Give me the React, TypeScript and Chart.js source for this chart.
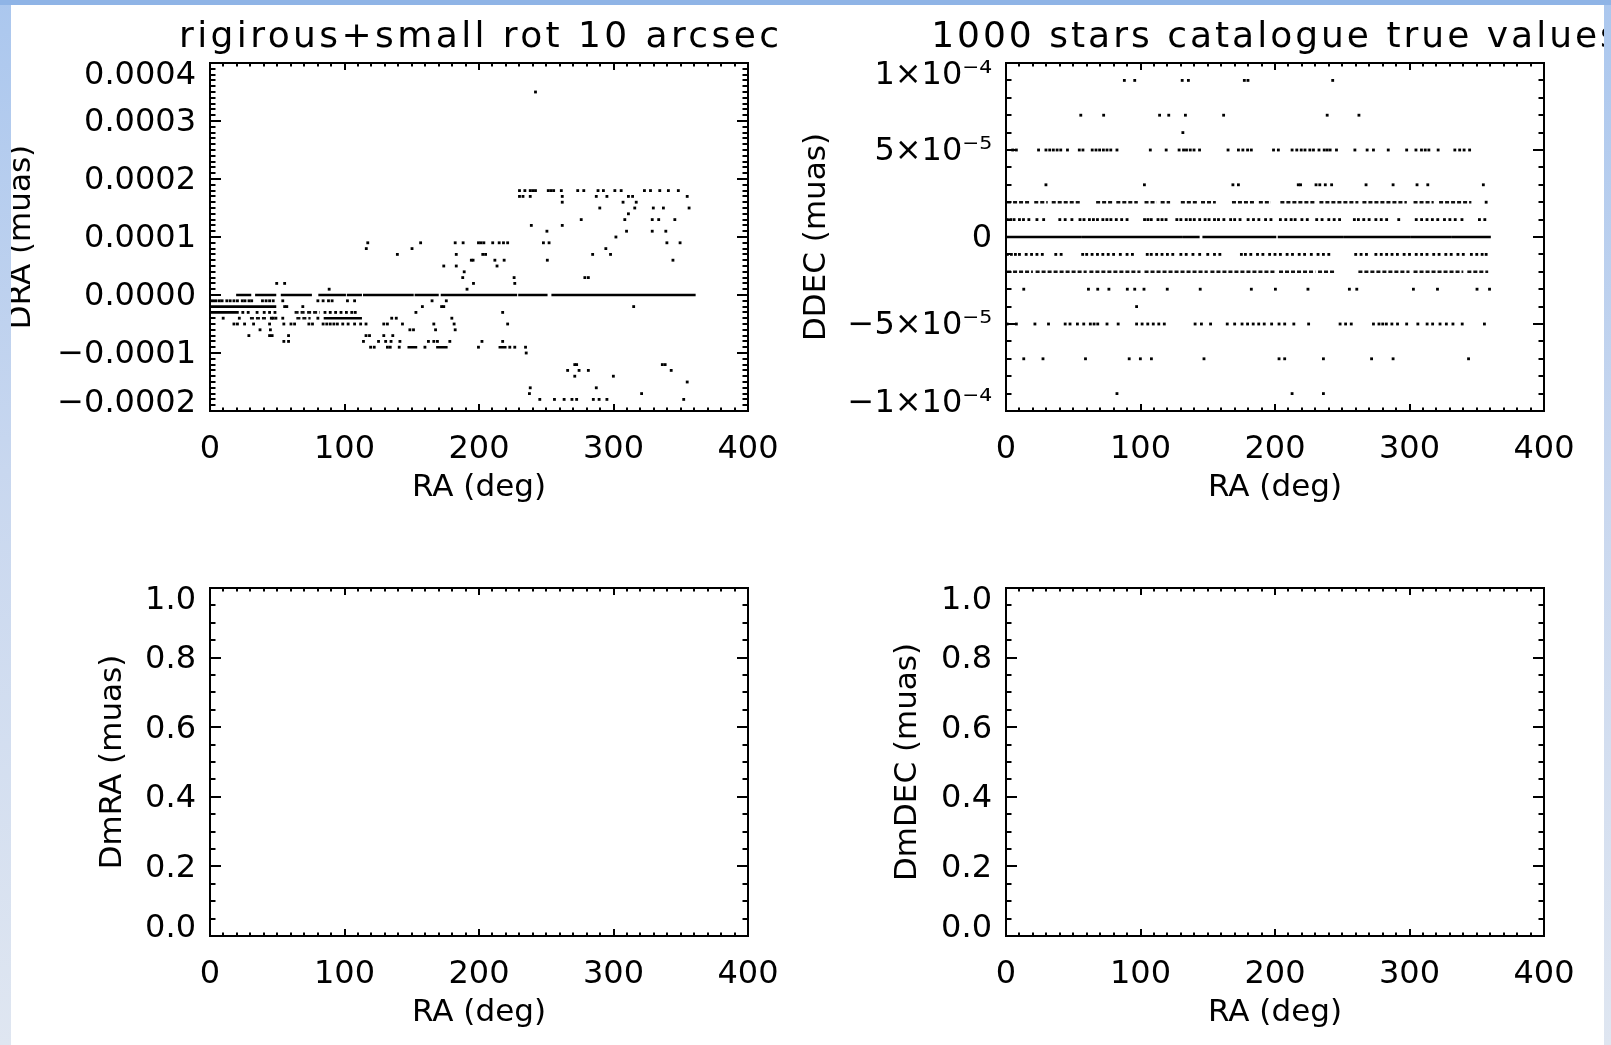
import React, { useEffect, useRef } from 'react';
import { Chart, registerables } from 'chart.js';

Chart.register(...registerables);

const FONT = '"DejaVu Sans", "Liberation Sans", sans-serif';

// ---------------- shared x axis ----------------
const RA_TICKS = [0, 100, 200, 300, 400];
const RA_TICK_LABELS = ['0', '100', '200', '300', '400'];
const RA_MINOR_STEP = 10;
const RA_TITLE = 'RA (deg)';

// ---------------- top-left panel ----------------
const TL_TITLE = 'rigirous+small rot 10 arcsec';
const TL_Y_TITLE = 'DRA (muas)';
const TL_Y_TICKS = [-0.0002, -0.0001, 0, 0.0001, 0.0002, 0.0003, 0.0004];
const TL_Y_LABELS = ['\u22120.0002', '\u22120.0001', '0.0000', '0.0001', '0.0002', '0.0003', '0.0004'];
const TL_Y_MINOR_STEP = 0.00001;

// DRA levels (muas) and the RA (deg) of the isolated stars seen on each level
const TL_LEVELS = [3.5e-4, 1.8e-4, 1.7e-4, 1.6e-4, 1.5e-4, 1.4e-4, 1.3e-4, 1.2e-4, 1.1e-4, 1.0e-4, 9e-5, 8e-5, 7e-5, 6e-5, 5e-5, 4e-5, 3e-5, 2e-5, 1e-5, -1e-5, -2e-5, -3e-5, -4e-5, -5e-5, -6e-5, -7e-5, -8e-5, -9e-5, -1.0e-4, -1.2e-4, -1.3e-4, -1.4e-4, -1.5e-4, -1.6e-4, -1.7e-4, -1.8e-4];
const TL_RA = [
  [242.0],
  [230.1, 234.1, 238.1, 240.0, 242.0, 251.5, 253.5, 255.5, 261.2, 273.4, 277.9, 288.5, 292.5, 301.0, 305.7, 323.0, 327.5, 334.4, 340.8, 348.2],
  [230.1, 232.7, 238.1, 261.9, 287.2, 295.1, 311.1, 314.2, 354.8],
  [261.9, 307.1, 316.9],
  [289.8, 315.8, 329.6, 337.1, 356.2],
  [311.1],
  [276.0, 308.4, 328.8, 333.6, 345.6],
  [238.9, 261.9],
  [250.5, 309.7, 328.8, 338.9],
  [301.8],
  [117.3, 156.6, 182.3, 188.2, 199.6, 201.5, 203.6, 210.2, 215.0, 218.2, 221.3, 247.9, 252.1, 339.7, 349.5],
  [116.2, 150.2, 294.3],
  [139.3, 183.1, 202.8, 204.9, 284.5, 297.8],
  [194.3, 195.6, 211.8, 218.7, 250.8, 344.2],
  [173.8, 183.1, 213.4],
  [189.0],
  [187.9, 226.1, 278.7, 281.3],
  [49.6, 55.5, 195.9, 226.6],
  [88.6, 191.1],
  [0.5, 2.5, 4.5, 7.0, 9.0, 12.5, 15.0, 17.8, 20.4, 24.0, 26.0, 29.0, 31.0, 39.0, 41.7, 44.3, 47.0, 54.1, 80.2, 84.1, 88.1, 90.8, 102.2, 107.5, 165.1, 175.7],
  [55.5, 57.1, 69.0, 157.9, 172.2, 173.8, 315.0],
  [24.4, 28.4, 35.0, 40.3, 44.3, 48.3, 85.5, 89.4, 93.4, 97.4, 101.4, 105.4, 108.0, 153.1, 217.6],
  [9.8, 21.8, 45.6, 47.0, 49.0, 54.1, 80.2, 135.1, 138.5, 179.8],
  [17.8, 20.4, 25.7, 32.4, 44.3, 54.9, 60.2, 62.9, 73.5, 76.2, 84.1, 86.8, 89.4, 92.1, 94.7, 98.7, 102.7, 107.5, 112.0, 116.0, 129.2, 131.9, 143.1, 166.4, 181.5, 221.3],
  [37.2, 44.9, 148.6, 151.3, 167.7, 182.3],
  [28.9, 44.3, 46.2, 58.4, 116.0, 118.6, 129.2, 135.9],
  [54.9, 58.4, 114.1, 125.3, 130.6, 134.6, 141.2, 162.4, 166.4, 169.1, 178.3, 202.2, 217.6],
  [119.4, 122.1, 131.9, 134.0, 140.7, 159.8, 199.6, 222.9, 226.6, 234.6],
  [235.1],
  [271.2, 272.6, 336.3, 338.4],
  [265.9, 274.4, 281.3, 342.9],
  [271.2, 299.9],
  [354.8],
  [238.1, 287.2],
  [237.5, 320.9],
  [245.2, 256.1, 263.3, 269.1, 272.6, 285.0, 289.3, 295.1, 352.2],
];
// solid runs of overlapping stars: level, RA start, RA end
const TL_RUN_LEVEL = [0, 0, 0, 0, 0, 0, 0, 0, 0, 0, 0, 0, -2e-5, -3e-5, -4e-5, -9e-5, -9e-5, -9e-5];
const TL_RUN_START = [20.4, 34.5, 53.6, 81.5, 102.7, 114.7, 153.1, 172.5, 230.1, 254.8, 310.2, 329.2, 0.5, 0.5, 85.5, 147.8, 169.1, 215.5];
const TL_RUN_END = [29.7, 48.3, 74.8, 100.1, 112.0, 150.5, 169.1, 227.4, 250.0, 308.4, 327.5, 360.1, 48.3, 20.4, 112.0, 153.1, 175.7, 219.5];
// dotted (densely packed but broken) runs
const TL_DOT_LEVEL = [-3e-5, -3e-5, -4e-5, -4e-5];
const TL_DOT_START = [62.9, 72.2, 29.7, 64.2];
const TL_DOT_END = [70.9, 81.5, 43.0, 74.8];

// ---------------- top-right panel ----------------
const TR_TITLE = '1000 stars catalogue true values';
const TR_Y_TITLE = 'DDEC (muas)';
const TR_Y_TICKS = [-0.0001, -0.00005, 0, 0.00005, 0.0001];
const TR_Y_LABELS = ['\u22121\u00d710\u207b\u2074', '\u22125\u00d710\u207b\u2075', '0', '5\u00d710\u207b\u2075', '1\u00d710\u207b\u2074'];
const TR_Y_MINOR_STEP = 0.00001;

const TR_LEVELS = [9e-5, 7e-5, 6e-5, 5e-5, 3e-5, 2e-5, 1e-5, -1e-5, -3e-5, -4e-5, -5e-5, -7e-5, -9e-5];
const TR_RA = [
  [88.0, 95.7, 131.0, 135.6, 177.2, 179.9, 242.9],
  [55.6, 72.6, 114.2, 121.0, 133.4, 161.8, 238.8, 262.4],
  [131.5],
  [5.0, 7.7, 24.2, 29.7, 32.5, 35.2, 38.0, 40.7, 45.7, 54.5, 57.2, 64.1, 66.9, 69.6, 72.4, 75.1, 77.9, 82.5, 107.3, 119.1, 128.7, 132.0, 134.2, 137.0, 139.8, 143.9, 165.1, 172.8, 176.1, 179.6, 182.4, 198.9, 202.5, 212.7, 216.2, 219.5, 222.3, 225.9, 228.6, 232.7, 236.6, 238.8, 241.0, 245.7, 259.4, 268.5, 273.2, 284.2, 297.9, 304.8, 308.9, 311.7, 314.4, 321.3, 333.7, 337.3, 340.6, 344.7],
  [29.7, 102.9, 168.7, 172.8, 217.3, 219.0, 230.5, 233.3, 237.4, 242.1, 267.7, 287.8, 305.6, 313.6, 354.9],
  [357.0],
  [1.0, 3.5, 6.0, 10.0, 13.0, 17.0, 23.0, 28.0, 40.0, 44.0, 49.0, 55.0, 58.0, 62.0, 65.0, 68.0, 72.0, 75.0, 78.0, 82.0, 86.0, 90.0, 103.0, 105.5, 108.0, 113.0, 116.0, 119.0, 127.0, 130.0, 134.0, 137.0, 140.0, 144.0, 148.0, 151.0, 155.0, 158.0, 162.0, 167.0, 170.0, 174.0, 180.0, 184.0, 188.0, 193.0, 197.0, 204.0, 208.0, 212.0, 215.0, 220.0, 224.0, 231.0, 235.0, 240.0, 244.0, 248.0, 259.0, 262.0, 266.0, 270.0, 275.0, 279.0, 283.0, 292.0, 305.0, 309.0, 313.0, 317.0, 321.0, 326.0, 330.0, 334.0, 339.0, 352.0, 356.0],
  [1.0, 4.0, 7.0, 10.0, 15.0, 19.0, 23.0, 27.0, 37.0, 41.0, 57.0, 60.0, 64.0, 68.0, 72.0, 76.0, 80.0, 85.0, 90.0, 94.0, 105.0, 108.0, 112.0, 116.0, 120.0, 124.0, 130.0, 134.0, 139.0, 144.0, 150.0, 155.0, 159.0, 175.0, 178.0, 182.0, 187.0, 191.0, 196.0, 200.0, 204.0, 209.0, 213.0, 218.0, 222.0, 227.0, 232.0, 236.0, 240.0, 260.0, 264.0, 268.0, 275.0, 279.0, 283.0, 287.0, 291.0, 296.0, 300.0, 305.0, 309.0, 313.0, 318.0, 322.0, 327.0, 331.0, 336.0, 340.0, 346.0, 350.0, 354.0, 357.0],
  [13.2, 61.3, 68.2, 76.5, 90.2, 95.7, 102.6, 119.9, 144.4, 182.4, 200.3, 224.5, 255.3, 260.8, 302.9, 320.8, 350.2, 359.5],
  [97.1],
  [0.8, 7.7, 21.5, 31.6, 44.0, 47.6, 53.1, 57.8, 62.7, 65.5, 68.2, 75.1, 83.4, 97.1, 101.2, 105.4, 109.5, 113.6, 117.7, 140.6, 145.3, 152.1, 164.5, 170.0, 175.5, 179.6, 183.8, 187.9, 192.0, 197.5, 203.0, 207.2, 214.0, 225.0, 248.4, 252.5, 256.7, 273.2, 277.3, 280.1, 282.8, 286.9, 291.1, 297.9, 306.2, 313.1, 317.2, 322.7, 327.4, 332.3, 339.2, 355.7],
  [13.2, 27.5, 59.1, 91.6, 99.9, 108.1, 147.2, 203.0, 207.2, 236.0, 271.8, 287.8, 343.9],
  [82.5, 212.7, 236.0],
];
// solid run (DDEC = 0)
const TR_RUN_LEVEL = [0, 0, 0, 0, 0, 0, 0, 0];
const TR_RUN_START = [0.8, 57, 132, 147, 203, 252, 302, 332];
const TR_RUN_END = [55, 130, 143, 200, 250, 300, 330, 359.5];
// dotted runs (DDEC = +-2e-5)
const TR_DOT_LEVEL = [2e-5, 2e-5, 2e-5, 2e-5, 2e-5, 2e-5, 2e-5, 2e-5, 2e-5, 2e-5, 2e-5, 2e-5, 2e-5, 2e-5, 2e-5, 2e-5, -2e-5, -2e-5, -2e-5, -2e-5, -2e-5, -2e-5, -2e-5, -2e-5, -2e-5, -2e-5];
const TR_DOT_START = [0.8, 21, 34, 67, 82, 103, 115, 130, 145, 168, 188, 204, 233, 265, 303, 322, 0.8, 22, 62, 103, 152, 203, 232, 262, 303, 343];
const TR_DOT_END = [18, 31, 56, 80, 98, 112, 122, 142, 156, 185, 197, 230, 262, 298, 318, 346, 20, 60, 100, 150, 200, 230, 244, 300, 340, 358.5];

// ---------------- bottom panels (empty) ----------------
const BL_Y_TITLE = 'DmRA (muas)';
const BR_Y_TITLE = 'DmDEC (muas)';
const B_Y_TICKS = [0, 0.2, 0.4, 0.6, 0.8, 1.0];
const B_Y_LABELS = ['0.0', '0.2', '0.4', '0.6', '0.8', '1.0'];
const B_Y_MINOR_STEP = 0.05;

// ---------------- helpers ----------------
function buildPoints(levels: number[], ras: number[][]) {
  const pts: any[] = [];
  levels.forEach((lv, i) => ras[i].forEach((ra) => pts.push({ x: ra, y: lv })));
  return pts;
}
function buildRuns(levels: number[], starts: number[], ends: number[]) {
  const pts: any[] = [];
  levels.forEach((lv, i) => {
    pts.push({ x: starts[i], y: lv }, { x: ends[i], y: lv }, { x: ends[i], y: null });
  });
  return pts;
}

const idlPlugin = {
  id: 'idl',
  afterDraw(chart: any, _args: any, opts: any) {
    const { ctx, chartArea: a } = chart;
    const xs = chart.scales.x;
    const ys = chart.scales.y;
    ctx.save();
    ctx.strokeStyle = '#000';
    ctx.lineWidth = 2;
    ctx.beginPath();
    const drawAxisTicks = (scale: any, step: number, majorLen: number, horizontal: boolean) => {
      const n = Math.round((scale.max - scale.min) / step);
      for (let i = 0; i <= n; i++) {
        const v = scale.min + i * step;
        const isMajor = scale.ticks.some((t: any) => Math.abs(t.value - v) < step * 0.01);
        const len = isMajor ? majorLen : majorLen / 2;
        const p = Math.round(scale.getPixelForValue(v));
        if (horizontal) {
          ctx.moveTo(p, a.bottom); ctx.lineTo(p, a.bottom - len);
          ctx.moveTo(p, a.top); ctx.lineTo(p, a.top + len);
        } else {
          ctx.moveTo(a.left, p); ctx.lineTo(a.left + len, p);
          ctx.moveTo(a.right, p); ctx.lineTo(a.right - len, p);
        }
      }
    };
    drawAxisTicks(xs, opts.xMinor, 7, true);
    drawAxisTicks(ys, opts.yMinor, 11, false);
    ctx.stroke();
    ctx.strokeRect(a.left, a.top, a.right - a.left, a.bottom - a.top);
    if (opts.title) {
      ctx.fillStyle = '#000';
      ctx.font = `36px ${FONT}`;
      (ctx as any).letterSpacing = `${opts.titleSpacing}px`;
      ctx.textAlign = 'center';
      ctx.textBaseline = 'alphabetic';
      ctx.fillText(opts.title, (a.left + a.right) / 2 + opts.titleSpacing / 2, 47);
    }
    ctx.restore();
  },
};

type Spec = {
  left: number; top: number; width: number; height: number;
  padRight: number; padBottom: number; yWidth: number; yTitlePad: number;
  title?: string; titleSpacing?: number; yTitle: string;
  yTicks: number[]; yLabels: string[]; yMinor: number;
  points?: any[]; runs?: any[]; dotRuns?: any[];
};

function buildConfig(spec: Spec): any {
  const yMin = spec.yTicks[0];
  const yMax = spec.yTicks[spec.yTicks.length - 1];
  const yStep = spec.yTicks[1] - spec.yTicks[0];
  const datasets: any[] = [];
  if (spec.runs) {
    datasets.push({
      data: spec.runs, showLine: true, pointRadius: 0, borderColor: '#000',
      borderWidth: 2.6, borderCapStyle: 'square', spanGaps: false, tension: 0,
    });
  }
  if (spec.dotRuns) {
    datasets.push({
      data: spec.dotRuns, showLine: true, pointRadius: 0, borderColor: '#111',
      borderWidth: 2.6, borderDash: [4, 2], borderCapStyle: 'butt', spanGaps: false, tension: 0,
    });
  }
  if (spec.points) {
    datasets.push({
      data: spec.points, showLine: false, pointStyle: 'rect', pointRadius: 2,
      backgroundColor: '#000', borderWidth: 0,
    });
  }
  return {
    type: 'scatter',
    data: { datasets },
    plugins: [idlPlugin],
    options: {
      responsive: false, animation: false, devicePixelRatio: 1, events: [],
      layout: { padding: { left: 0, right: spec.padRight, top: 63, bottom: spec.padBottom } },
      plugins: {
        legend: { display: false }, tooltip: { enabled: false }, title: { display: false },
        idl: { title: spec.title, titleSpacing: spec.titleSpacing || 0, xMinor: RA_MINOR_STEP, yMinor: spec.yMinor },
      },
      scales: {
        x: {
          type: 'linear', min: RA_TICKS[0], max: RA_TICKS[RA_TICKS.length - 1],
          afterFit: (s: any) => { s.height = 100; },
          grid: { display: false, drawTicks: false }, border: { display: false },
          ticks: {
            stepSize: RA_TICKS[1] - RA_TICKS[0], padding: 19, color: '#000', maxRotation: 0, autoSkip: false,
            font: { family: FONT, size: 32, lineHeight: 1.2 },
            callback: (v: number) => {
              const k = RA_TICKS.findIndex((t) => Math.abs(t - v) < 1e-6);
              return k >= 0 ? RA_TICK_LABELS[k] : '';
            },
          },
          title: {
            display: true, text: RA_TITLE, color: '#000',
            font: { family: FONT, size: 31, lineHeight: 1.2 }, padding: { top: 0, bottom: 4.4 },
          },
        },
        y: {
          type: 'linear', min: yMin, max: yMax,
          afterFit: (s: any) => { s.width = spec.yWidth; },
          grid: { display: false, drawTicks: false }, border: { display: false },
          ticks: {
            stepSize: yStep, padding: 14, color: '#000', autoSkip: false, labelOffset: 2,
            font: (ctx: any) => {
              const n = ctx.scale && ctx.scale.ticks ? ctx.scale.ticks.length : 0;
              let lh = 1.2;
              if (typeof ctx.index === 'number' && ctx.index === 0) lh = 0.56;
              if (typeof ctx.index === 'number' && n > 0 && ctx.index === n - 1) lh = 0.69;
              return { family: FONT, size: 32, lineHeight: lh };
            },
            callback: (v: number, index: number, ticks: any[]) => {
              const k = spec.yTicks.findIndex((t) => Math.abs(t - v) < Math.abs(yStep) * 0.01);
              const lbl = k >= 0 ? spec.yLabels[k] : '';
              if (index === 0) return [lbl, ''];
              if (index === ticks.length - 1) return ['', lbl];
              return lbl;
            },
          },
          title: {
            display: true, text: spec.yTitle, color: '#000',
            font: { family: FONT, size: 31, lineHeight: 1.2 }, padding: { top: spec.yTitlePad, bottom: 0 },
          },
        },
      },
    },
  };
}

const SPECS: Spec[] = [
  {
    left: 0, top: 0, width: 800, height: 525, padRight: 52, padBottom: 14, yWidth: 210, yTitlePad: 3.4,
    title: TL_TITLE, titleSpacing: 3.4, yTitle: TL_Y_TITLE, yTicks: TL_Y_TICKS, yLabels: TL_Y_LABELS, yMinor: TL_Y_MINOR_STEP,
    points: buildPoints(TL_LEVELS, TL_RA), runs: buildRuns(TL_RUN_LEVEL, TL_RUN_START, TL_RUN_END),
    dotRuns: buildRuns(TL_DOT_LEVEL, TL_DOT_START, TL_DOT_END),
  },
  {
    left: 780, top: 0, width: 831, height: 525, padRight: 67, padBottom: 14, yWidth: 226, yTitlePad: 17.9,
    title: TR_TITLE, titleSpacing: 3.0, yTitle: TR_Y_TITLE, yTicks: TR_Y_TICKS, yLabels: TR_Y_LABELS, yMinor: TR_Y_MINOR_STEP,
    points: buildPoints(TR_LEVELS, TR_RA), runs: buildRuns(TR_RUN_LEVEL, TR_RUN_START, TR_RUN_END),
    dotRuns: buildRuns(TR_DOT_LEVEL, TR_DOT_START, TR_DOT_END),
  },
  {
    left: 0, top: 525, width: 800, height: 520, padRight: 52, padBottom: 9, yWidth: 210, yTitlePad: 94.4,
    yTitle: BL_Y_TITLE, yTicks: B_Y_TICKS, yLabels: B_Y_LABELS, yMinor: B_Y_MINOR_STEP,
  },
  {
    left: 780, top: 525, width: 831, height: 520, padRight: 67, padBottom: 9, yWidth: 226, yTitlePad: 108.9,
    yTitle: BR_Y_TITLE, yTicks: B_Y_TICKS, yLabels: B_Y_LABELS, yMinor: B_Y_MINOR_STEP,
  },
];

function Panel({ spec }: { spec: Spec }) {
  const ref = useRef<HTMLCanvasElement | null>(null);
  useEffect(() => {
    if (!ref.current) return;
    const chart = new Chart(ref.current, buildConfig(spec));
    return () => chart.destroy();
  }, [spec]);
  return (
    <canvas
      ref={ref}
      width={spec.width}
      height={spec.height}
      style={{ position: 'absolute', left: spec.left, top: spec.top, width: spec.width, height: spec.height }}
    />
  );
}

export default function App() {
  const side = 'linear-gradient(to bottom, #abc7ee 0%, #c8d7ef 45%, #dfe6f1 100%)';
  return (
    <div style={{ position: 'fixed', left: 0, top: 0, width: 1611, height: 1045, background: '#fff', overflow: 'hidden' }}>
      {SPECS.map((s, i) => <Panel key={i} spec={s} />)}
      <div style={{ position: 'absolute', left: 0, top: 0, width: 11, height: 1045, background: side, zIndex: 5 }} />
      <div style={{ position: 'absolute', left: 1604, top: 0, width: 7, height: 1045, background: side, zIndex: 5 }} />
      <div style={{ position: 'absolute', left: 0, top: 0, width: 1611, height: 5, background: '#8fb4e6', zIndex: 6 }} />
    </div>
  );
}
